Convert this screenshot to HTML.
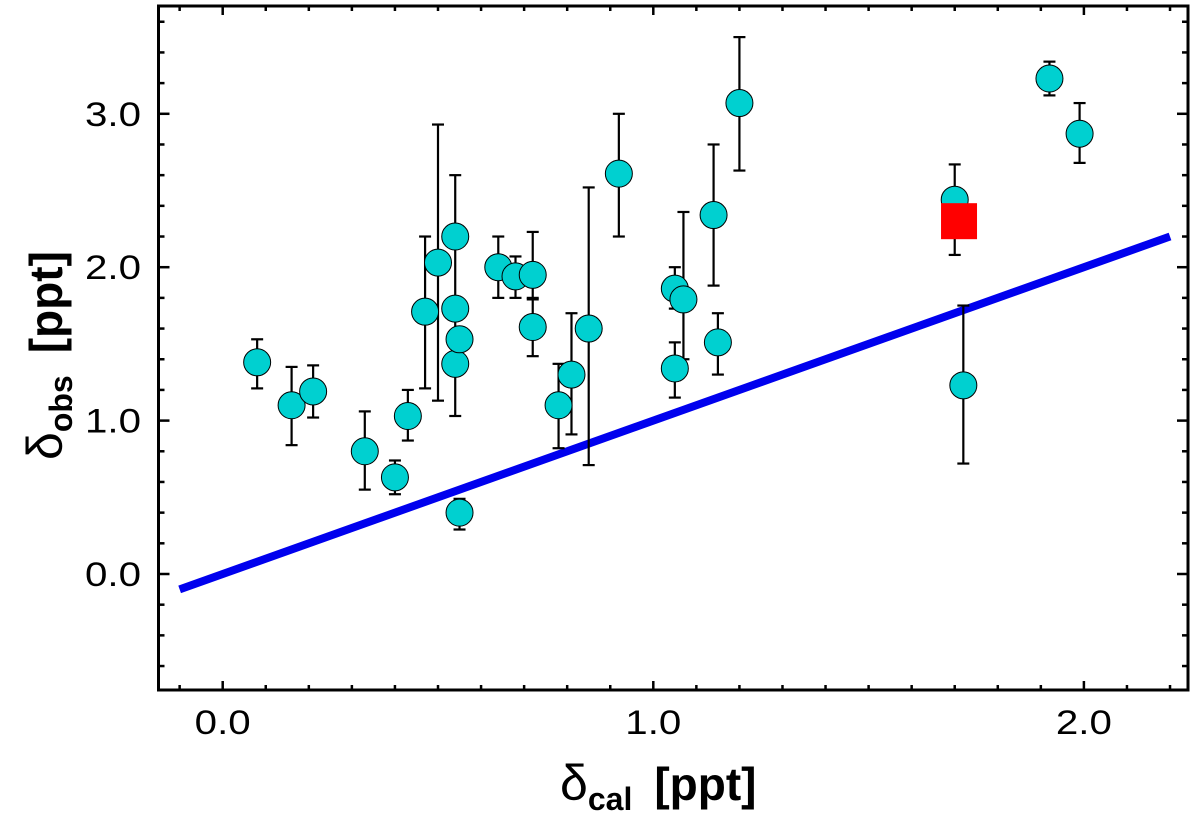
<!DOCTYPE html>
<html><head><meta charset="utf-8"><style>
body{margin:0;background:#fff;}
svg{display:block;font-family:"Liberation Sans",sans-serif;}
</style></head><body>
<svg id="chart" width="1200" height="826">
</svg>
<script>
const xs=[0.08,0.16,0.21,0.33,0.40,0.43,0.47,0.50,0.54,0.54,0.54,0.55,0.55,0.64,0.68,0.72,0.72,0.78,0.81,0.85,0.92,1.05,1.05,1.07,1.14,1.15,1.20,1.70,1.72,1.92,1.99];
const ys=[1.38,1.10,1.19,0.80,0.63,1.03,1.71,2.03,2.20,1.73,1.37,1.53,0.40,2.00,1.94,1.95,1.61,1.10,1.30,1.60,2.61,1.86,1.34,1.79,2.34,1.51,3.07,2.44,1.23,3.23,2.87];
const errHi=[1.53,1.35,1.36,1.06,0.74,1.20,2.20,2.93,2.60,null,null,null,0.49,2.20,2.07,2.23,1.80,1.37,1.70,2.52,3.00,2.00,1.51,2.36,2.80,1.70,3.50,2.67,1.75,3.34,3.07];
const errLo=[1.21,0.84,1.02,0.55,0.52,0.87,1.21,1.13,1.03,null,null,null,0.29,1.80,1.80,1.79,1.42,0.82,0.91,0.71,2.20,1.73,1.15,1.40,1.88,1.30,2.63,2.08,0.72,3.12,2.68];
const redX=[1.71], redY=[2.30];
const lineX=[-0.1,2.2];
const xTicks=[0,1,2], xTickLabels=["0.0","1.0","2.0"];
const yTicks=[0,1,2,3], yTickLabels=["0.0","1.0","2.0","3.0"];

const L=158.5,R=1188,T=6,B=690;
const X=v=>222.7+430.6*v;
const Y=v=>574-153.4*v;
const svg=document.getElementById('chart');
const NS='http://www.w3.org/2000/svg';
function mk(tag,attrs,parent){const e=document.createElementNS(NS,tag);for(const k in attrs)e.setAttribute(k,attrs[k]);(parent||svg).appendChild(e);return e;}

const frame=mk('rect',{x:L,y:T,width:R-L,height:B-T,fill:'none',stroke:'#000','stroke-width':3});



for(let i=-1;i<=22;i++){const v=i/10;const px=X(v);if(px<L||px>R)continue;const len=(i%10===0)?9:5;
 const t1=mk('line',{x1:px,y1:B,x2:px,y2:B-len,stroke:'#000','stroke-width':2.5});
 
 
 const t2=mk('line',{x1:px,y1:T,x2:px,y2:T+len,stroke:'#000','stroke-width':2.5});
 
 }
for(let i=-3;i<=18;i++){const v=i/5;const py=Y(v);if(py<T||py>B)continue;const len=(i%5===0)?11:6;
 const t1=mk('line',{x1:L,y1:py,x2:L+len,y2:py,stroke:'#000','stroke-width':2.5});
 
 
 const t2=mk('line',{x1:R,y1:py,x2:R-len,y2:py,stroke:'#000','stroke-width':2.5});
 
 }
xTicks.forEach((v,i)=>{const t=mk('text',{x:X(v),y:734,'font-size':34,'text-anchor':'middle',textLength:56,lengthAdjust:'spacingAndGlyphs'});t.textContent=xTickLabels[i];
 
 });
yTicks.forEach((v,i)=>{const t=mk('text',{x:141,y:Y(v)+12,'font-size':34,'text-anchor':'end',textLength:56,lengthAdjust:'spacingAndGlyphs'});t.textContent=yTickLabels[i];
 
 });

const ln=mk('line',{x1:X(lineX[0]),y1:Y(lineX[0]),x2:X(lineX[1]),y2:Y(lineX[1]),stroke:'#0000ee','stroke-width':8});



xs.forEach((x,i)=>{if(errHi[i]==null)return;const px=X(x);
 const g=mk('g',{stroke:'#000','stroke-width':2.2});
 
 
 mk('line',{x1:px,y1:Y(errHi[i]),x2:px,y2:Y(errLo[i])},g);
 mk('line',{x1:px-6,y1:Y(errHi[i]),x2:px+6,y2:Y(errHi[i])},g);
 mk('line',{x1:px-6,y1:Y(errLo[i]),x2:px+6,y2:Y(errLo[i])},g);});
xs.forEach((x,i)=>{const c=mk('circle',{cx:X(x),cy:Y(ys[i]),r:13.5,fill:'#00d0d0',stroke:'#000','stroke-width':1});
 
 });
redX.forEach((x,i)=>{const r=mk('rect',{x:X(x)-18,y:Y(redY[i])-18,width:36,height:36,fill:'#ff0000'});
 
 });

const xt=mk('text',{x:560,y:800,'font-size':46,'font-weight':'bold'});
xt.innerHTML='<tspan font-weight="normal" font-size="50">δ</tspan><tspan font-size="32" dy="10">cal</tspan><tspan dy="-10" dx="22">[ppt]</tspan>';


const yt=mk('text',{x:0,y:0,'font-size':46,'font-weight':'bold',transform:'translate(62,460) rotate(-90)'});
yt.innerHTML='<tspan font-weight="normal" font-size="50">δ</tspan><tspan font-size="32" dy="10">obs</tspan><tspan dy="-10" dx="22">[ppt]</tspan>';


</script>
</body></html>
